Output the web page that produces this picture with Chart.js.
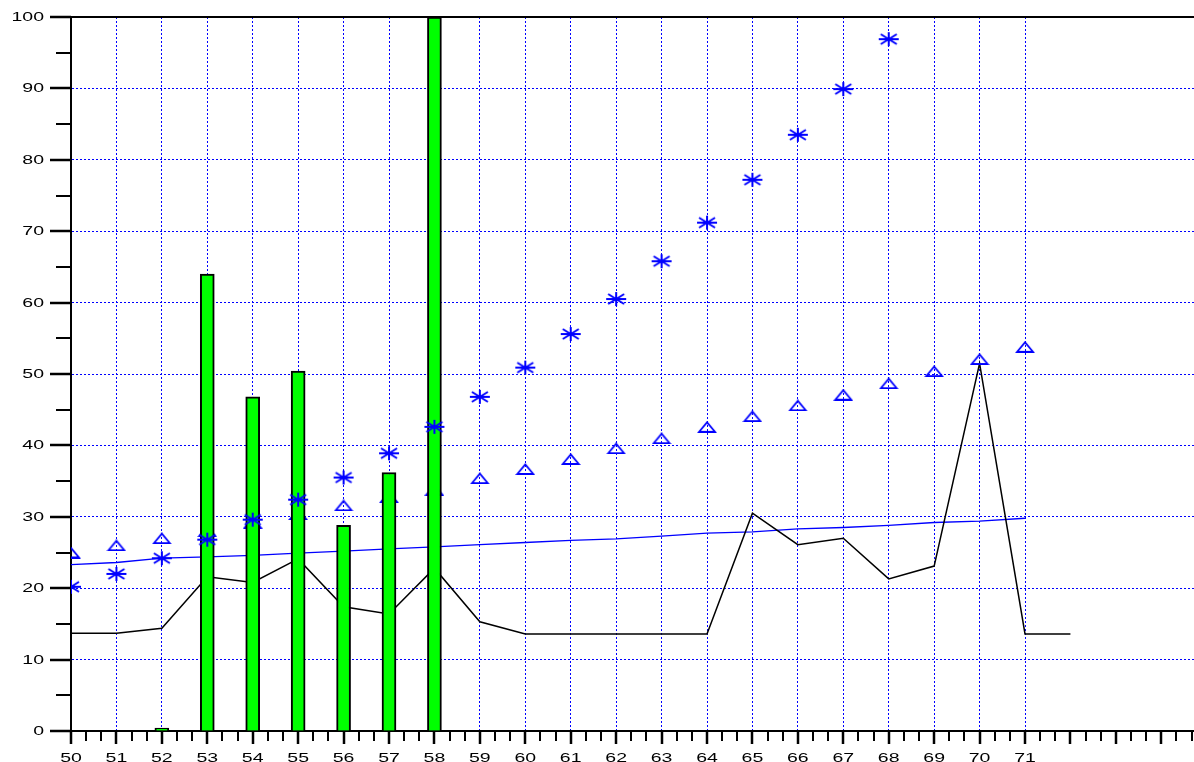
<!DOCTYPE html>
<html>
<head>
<meta charset="utf-8">
<script src="https://cdn.jsdelivr.net/npm/chart.js@4.4.1/dist/chart.umd.min.js"></script>
<style>
  html, body { margin: 0; padding: 0; background: #fff; }
  canvas { display: block; }
</style>
</head>
<body>
<canvas id="chart" width="1194" height="762"></canvas>
<script>
// tick labels
const xLabels = [50, 51, 52, 53, 54, 55, 56, 57, 58, 59, 60, 61, 62, 63, 64, 65, 66, 67, 68, 69, 70, 71]
const yLabels = [0, 10, 20, 30, 40, 50, 60, 70, 80, 90, 100]

// green bars
const barX = [52, 53, 54, 55, 56, 57, 58]
const barVals = [0.4, 64, 46.8, 50.4, 28.8, 36.2, 100]

// asterisk markers
const starX = [50, 51, 52, 53, 54, 55, 56, 57, 58, 59, 60, 61, 62, 63, 64, 65, 66, 67, 68]
const starVals = [20.2, 22, 24.2, 26.8, 29.6, 32.4, 35.5, 38.9, 42.6, 46.8, 50.9, 55.6, 60.5, 65.8, 71.2, 77.2, 83.5, 89.9, 96.9]

// triangle markers
const triX = [50, 51, 52, 53, 54, 55, 56, 57, 58, 59, 60, 61, 62, 63, 64, 65, 66, 67, 68, 69, 70, 71]
const triVals = [25.0, 26.0, 27.0, 28.0, 29.2, 30.4, 31.6, 32.8, 33.8, 35.4, 36.7, 38.1, 39.6, 41.0, 42.6, 44.1, 45.6, 47.1, 48.7, 50.4, 52.1, 53.8]

// black line
const lineX = [50, 51, 52, 53, 54, 55, 56, 57, 58, 59, 60, 61, 62, 63, 64, 65, 66, 67, 68, 69, 70, 71, 72]
const lineVals = [13.7, 13.7, 14.4, 21.6, 20.8, 24.1, 17.4, 16.4, 22.8, 15.3, 13.6, 13.6, 13.6, 13.6, 13.6, 30.5, 26.1, 27.0, 21.3, 23.1, 51.5, 13.6, 13.6]

// blue trend line
const trendX = [50, 51, 52, 53, 54, 55, 56, 57, 58, 59, 60, 61, 62, 63, 64, 65, 66, 67, 68, 69, 70, 71]
const trendVals = [23.3, 23.6, 24.2, 24.4, 24.6, 24.9, 25.2, 25.5, 25.8, 26.1, 26.4, 26.7, 26.9, 27.3, 27.7, 27.9, 28.3, 28.5, 28.8, 29.2, 29.4, 29.8]

const BLUE = '#0000ff'

const pts = (xs, ys) => xs.map((x, i) => ({x: x, y: ys[i]}))

// marker images
function makeStar() {
    const c = document.createElement('canvas')
    c.width = 22; c.height = 16
    const g = c.getContext('2d')
    g.strokeStyle = BLUE
    g.lineWidth = 2
    g.beginPath()
    g.moveTo(1, 8); g.lineTo(21, 8)
    g.moveTo(11, 1); g.lineTo(11, 15)
    g.moveTo(3, 3); g.lineTo(19, 13)
    g.moveTo(3, 13); g.lineTo(19, 3)
    g.stroke()
    return c
}

function makeTriangle() {
    const c = document.createElement('canvas')
    c.width = 20; c.height = 12
    const g = c.getContext('2d')
    g.strokeStyle = BLUE
    g.lineWidth = 1.8
    g.beginPath()
    g.moveTo(2, 11); g.lineTo(18, 11); g.lineTo(10, 1.5); g.closePath()
    g.stroke()
    return c
}

// tick marks, frame line and stretched tick labels
const axisDecor = {
    id: 'axisDecor',
    afterDraw(chart) {
        const {ctx, chartArea: a, scales: {x, y}} = chart
        ctx.save()
        ctx.strokeStyle = '#000'
        ctx.lineWidth = 2
        ctx.beginPath()
        ctx.moveTo(a.left, a.top)
        ctx.lineTo(a.right, a.top)
        ctx.stroke()

        for (let k = 0; 50 + k / 3 <= x.max; k++) {
            const px = Math.round(x.getPixelForValue(50 + k / 3))
            const major = k % 3 === 0
            ctx.lineWidth = major ? 2.5 : 2
            ctx.beginPath()
            ctx.moveTo(px, a.bottom)
            ctx.lineTo(px, a.bottom + (major ? 13 : 10))
            ctx.stroke()
        }
        for (let v = 0; v <= 100; v += 5) {
            const py = Math.round(y.getPixelForValue(v))
            const major = v % 10 === 0
            ctx.lineWidth = major ? 2.5 : 2
            ctx.beginPath()
            ctx.moveTo(a.left, py)
            ctx.lineTo(a.left - (major ? 21 : 15), py)
            ctx.stroke()
        }

        ctx.fillStyle = '#000'
        ctx.font = '13px "Liberation Sans", Arial, sans-serif'
        ctx.textBaseline = 'middle'
        ctx.textAlign = 'right'
        yLabels.forEach(v => {
            ctx.save()
            ctx.translate(44, y.getPixelForValue(v) + 0.5)
            ctx.scale(1.5, 1)
            ctx.fillText(String(v), 0, 0)
            ctx.restore()
        })
        ctx.textAlign = 'center'
        ctx.textBaseline = 'alphabetic'
        xLabels.forEach(v => {
            ctx.save()
            ctx.translate(x.getPixelForValue(v), 762)
            ctx.scale(1.5, 1)
            ctx.fillText(String(v), 0, 0)
            ctx.restore()
        })
        ctx.restore()
    }
}

let ctx = document.getElementById('chart')
let myChart = new Chart(ctx, {
    type: 'bar',
    data: {
        datasets: [
            {
                type: 'line',
                data: pts(starX, starVals),
                showLine: false,
                pointStyle: makeStar(),
                pointRadius: 8,
                order: 0,
                clip: 0
            },
            {
                type: 'bar',
                data: pts(barX, barVals),
                backgroundColor: '#00ff00',
                borderColor: '#000',
                borderWidth: 2,
                barThickness: 14,
                order: 1
            },
            {
                type: 'line',
                data: pts(triX, triVals),
                showLine: false,
                pointStyle: makeTriangle(),
                pointRadius: 8,
                order: 2,
                clip: 0
            },
            {
                type: 'line',
                data: pts(lineX, lineVals),
                borderColor: '#000',
                borderWidth: 1.5,
                pointRadius: 0,
                tension: 0,
                order: 3
            },
            {
                type: 'line',
                data: pts(trendX, trendVals),
                borderColor: BLUE,
                borderWidth: 1.3,
                pointRadius: 0,
                tension: 0,
                order: 4
            }
        ]
    },
    options: {
        responsive: false,
        animation: false,
        events: [],
        layout: { autoPadding: false, padding: { top: 17, left: 0, right: 0, bottom: 0 } },
        plugins: {
            legend: { display: false },
            tooltip: { enabled: false }
        },
        scales: {
            x: {
                type: 'linear',
                offset: false,
                min: 50,
                max: 74.72,
                ticks: { display: false, stepSize: 1 },
                grid: {
                    offset: false,
                    drawTicks: false,
                    lineWidth: 1,
                    color: (c) => (c.tick && Number.isInteger(c.tick.value) && c.tick.value >= 51 && c.tick.value <= 71) ? BLUE : 'rgba(0,0,0,0)'
                },
                border: { display: true, color: '#000', width: 2, dash: [2, 2] },
                afterFit: (s) => { s.height = 31 }
            },
            y: {
                min: 0,
                max: 100,
                ticks: { display: false, stepSize: 10 },
                grid: {
                    drawTicks: false,
                    lineWidth: 1,
                    color: (c) => (c.tick && c.tick.value >= 10 && c.tick.value <= 90) ? BLUE : 'rgba(0,0,0,0)'
                },
                border: { display: true, color: '#000', width: 2, dash: [2, 2] },
                afterFit: (s) => { s.width = 71 }
            }
        }
    },
    plugins: [axisDecor]
})
</script>
</body>
</html>
